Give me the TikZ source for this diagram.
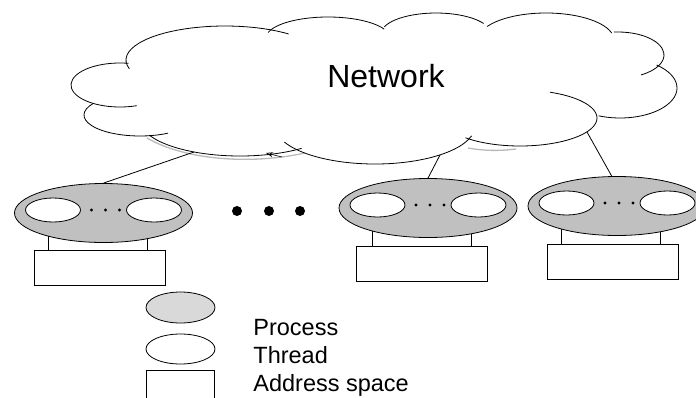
\documentclass[tikz,border=0pt]{standalone}
\usepackage{fontspec}
\setmainfont{Liberation Sans}
\usetikzlibrary{shapes.geometric,arrows.meta}

\definecolor{procgray}{RGB}{192,192,192}
\definecolor{keygray}{RGB}{217,217,217}
\definecolor{shadowgray}{RGB}{185,185,185}

\tikzset{
    process/.style={ellipse, draw, fill=procgray, minimum width=178pt, minimum height=59pt, inner sep=0pt},
    thread/.style={ellipse, draw, fill=white, minimum width=55pt, minimum height=24pt, inner sep=0pt},
    addrspace/.style={rectangle, draw, fill=white, minimum width=131pt, minimum height=35pt, inner sep=0pt},
    keytext/.style={anchor=base west, inner sep=0pt, font=\fontsize{23.5}{28}\selectfont},
}

\begin{document}
\begin{tikzpicture}[x=1pt,y=-1pt,line width=0.8pt]
    \useasboundingbox (0,0) rectangle (696,397);
    \clip (0,0) rectangle (696,397);

    % shadow under the cloud
    \draw[shadowgray, line width=1.3pt] (147,138) .. controls (185,160) and (250,165) .. (305,153);
    \draw[shadowgray, line width=1.3pt] (468,148) .. controls (485,151) and (500,151) .. (516,149);

    % cloud, one arc per bump
    \foreach \cx/\cy/\rx/\ry/\a/\b in {120/85/49/22/70/280, 225/60/99/34/165/310,
        328/38/62/21/195/335, 436/34/55/21/200/330, 546/40/68/27/210/345,
        618/55/46/23/265/420, 620/88/57/30/-50/112, 520/118/77/28/-67/135,
        375/126/100/38/15/155, 240/120/100/36/52/155, 140/115/56/21/60/213}{
        \draw ({\cx+\rx*cos(\a)},{\cy+\ry*sin(\a)}) arc[start angle=\a, end angle=\b, x radius=\rx, y radius=\ry];
    }
    \draw[{Stealth[open,length=7pt,width=5pt]}-, line width=0.6pt] (266,153) -- (282,157);

    \node[anchor=base, inner sep=0pt, font=\fontsize{32}{38}\selectfont] (net) at (386,87.5) {Network};

    \coordinate (n1) at (194,152);
    \coordinate (n2) at (440,155);
    \coordinate (n3) at (587,132);

    % processes with their threads and address spaces
    \node[process] (p1) at (103.5,213) {};
    \node[process] (p2) at (428,208) {};
    \node[process] (p3) at (617,206) {};

    \node[addrspace] (b1) at (100,268) {};
    \node[addrspace] (b2) at (421.5,264) {};
    \node[addrspace] (b3) at (612.5,262) {};

    \foreach \p/\b in {p1/b1,p2/b2,p3/b3}{
        \node[thread] (\p l) at ([shift={(-50.5,-3)}]\p) {};
        \node[thread] (\p r) at ([shift={(50.5,-3)}]\p) {};
        \foreach \dx in {-12,2,16}{
            \fill ([shift={(\dx,-3)}]\p) circle [radius=1.7];
        }
        \draw (\p.203) -- (\p.203 |- \b.north);
        \draw (\p.329) -- (\p.329 |- \b.north);
    }

    \draw (n1) -- (p1.north);
    \draw (n2) -- (p2.north);
    \draw (n3) -- (p3.100);

    \foreach \x in {237,269,300}{
        \fill (\x,211) circle [radius=5];
    }

    % key
    \node[process, fill=keygray, minimum width=69pt, minimum height=31pt] (kp) at (180.5,307.5) {};
    \node[thread, minimum width=69pt, minimum height=30pt] (kt) at (180.5,349) {};
    \node[addrspace, minimum width=68pt, minimum height=40pt] (ka) at (180,390) {};

    \node[keytext] (kpt) at (253,335.5) {Process};
    \node[keytext] (ktt) at (253,363.5) {Thread};
    \node[keytext] (kat) at (253,391) {Address space};
\end{tikzpicture}
\end{document}
